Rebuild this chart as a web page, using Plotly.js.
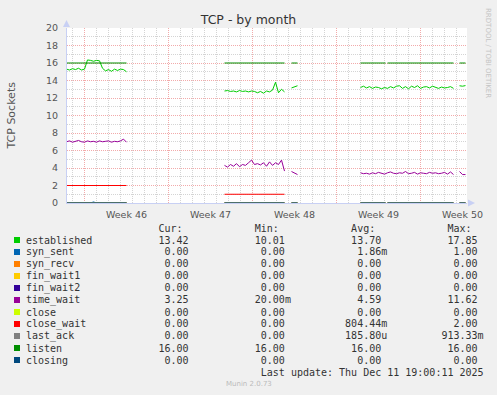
<!DOCTYPE html>
<html>
<head>
<meta charset="utf-8">
<script src="https://cdn.plot.ly/plotly-3.0.1.min.js"></script>
<style>
html,body{margin:0;padding:0;background:#f0f0f0;}
#chart{width:497px;height:395px;}
</style>
</head>
<body>
<div id="chart"></div>
<script>
// ---------- data ----------
const seriesNames = ['established','syn_sent','syn_recv','fin_wait1','fin_wait2','time_wait','close','close_wait','last_ack','listen','closing'];
const seriesColors = ['#00cc00','#0066b3','#ff8000','#ffcc00','#330099','#990099','#ccff00','#ff0000','#808080','#008f00','#00487d'];
const curText = ['13.42','0.00','0.00','0.00','0.00','3.25','0.00','0.00','0.00','16.00','0.00'];
const minText = ['10.01','0.00','0.00','0.00','0.00','20.00m','0.00','0.00','0.00','16.00','0.00'];
const avgText = ['13.70','1.86m','0.00','0.00','0.00','4.59','0.00','804.44m','185.80u','16.00','0.00'];
const maxText = ['17.85','1.00','0.00','0.00','0.00','11.62','0.00','2.00','913.33m','16.00','0.00'];
const weekTickFormat = 'Week %V';
const lastUpdate = 'Last update: Thu Dec 11 19:00:11 2025';

// segment start times (samples every 6 hours)
const segStarts = ['2025-11-08 12:00','2025-11-21 16:00','2025-11-27 06:00','2025-12-03 00:00','2025-12-11 06:00'];
const established = [
  [15.3,15.2,15.35,15.25,15.4,15.2,15.3,16.35,16.3,16.2,16.3,16.25,15.4,15.1,15.25,15.05,15.3,15.15,15.3,15.25,15.0],
  [12.8,12.85,12.75,12.8,12.7,12.85,12.75,12.8,12.7,12.8,12.75,12.6,12.75,12.55,12.8,12.7,12.9,13.8,12.6,13.0,12.7],
  [13.15,13.3,13.4],
  [13.2,13.35,13.15,13.3,13.1,13.25,13.2,13.05,13.2,13.1,13.3,13.15,13.35,13.4,13.1,13.3,13.05,13.35,13.2,13.4,13.1,13.25,13.3,13.15,13.35,13.2,13.1,13.25,13.15,13.2,13.3,13.1],
  [13.4,13.35,13.42]
];
const timeWait = [
  [7.0,7.1,6.95,7.05,7.15,7.0,6.95,7.1,7.0,7.05,6.95,7.1,7.0,7.05,7.1,6.95,7.05,7.0,7.1,7.3,6.95],
  [4.3,4.1,4.4,4.2,4.5,4.15,4.4,4.3,4.6,4.9,4.4,4.5,4.35,4.6,4.2,4.7,4.3,4.6,4.4,4.9,3.65],
  [3.6,3.4,3.25],
  [3.45,3.35,3.4,3.3,3.45,3.35,3.5,3.4,3.3,3.45,3.55,3.4,3.35,3.45,3.4,3.6,3.35,3.4,3.5,3.3,3.45,3.4,3.35,3.5,3.4,3.45,3.35,3.4,3.5,3.3,3.55,3.25],
  [3.6,3.25,3.25]
];
const synSent = [
  [0,0,0,0,0,0,0,0,0,0.12,0,0,0,0,0,0,0,0,0,0,0]
];
// constant series drawn over time spans
const listenSpans = [['2025-11-08 12:00','2025-11-13 12:00'],['2025-11-21 16:00','2025-11-26 16:00'],['2025-11-27 06:00','2025-11-27 18:00'],['2025-12-03 00:00','2025-12-05 02:00'],['2025-12-05 06:00','2025-12-10 18:00'],['2025-12-11 06:00','2025-12-11 18:00']];
const listenVals = [16,16,16,16,16,16];
const closeWaitSpans = [['2025-11-08 12:00','2025-11-13 12:00'],['2025-11-21 16:00','2025-11-26 16:00']];
const closeWaitVals = [2,1];
const zeroVals = [0,0,0,0,0,0];

// ---------- helpers ----------
function segTimes(start, n){
  const t0 = Date.parse(start.replace(' ','T')+':00Z');
  const out = [];
  for(let i=0;i<n;i++){ out.push(new Date(t0+i*6*3600e3).toISOString().slice(0,16).replace('T',' ')); }
  return out;
}
function fromSegments(segs){
  const x=[], y=[];
  segs.forEach((vals,k)=>{
    const t = segTimes(segStarts[k], vals.length);
    if(x.length){ x.push(null); y.push(null); }
    x.push(...t); y.push(...vals);
  });
  return {x,y};
}
function fromSpans(spans, vals){
  const x=[], y=[];
  spans.forEach((s,k)=>{
    if(x.length){ x.push(null); y.push(null); }
    x.push(s[0], s[1]); y.push(vals[k], vals[k]);
  });
  return {x,y};
}
function line(d, idx){
  return {type:'scatter', mode:'lines', x:d.x, y:d.y, name:seriesNames[idx],
    line:{color:seriesColors[idx], width:1}, connectgaps:false, hoverinfo:'skip'};
}
// daily minor grid positions, skipping week starts (Mondays) which get a major line
function dailyMinor(from, to){
  const out=[]; let t=Date.parse(from+'T00:00:00Z'); const end=Date.parse(to+'T00:00:00Z');
  for(; t<=end; t+=86400000){ const d=new Date(t); if(d.getUTCDay()!==1) out.push(d.toISOString().slice(0,10)); }
  return out;
}
// y minor grid at odd values
const yMinor = [1,3,5,7,9,11,13,15,17,19];

const traces = [];
traces.push(line(fromSegments(established),0));
traces.push(line(fromSegments(synSent),1));
[2,3,4].forEach(i=>traces.push(line(fromSpans(listenSpans, zeroVals),i)));
traces.push(line(fromSegments(timeWait),5));
traces.push(line(fromSpans(listenSpans, zeroVals),6));
traces.push(line(fromSpans(closeWaitSpans, closeWaitVals),7));
traces.push(line(fromSpans(listenSpans, zeroVals),8));
traces.push(line(fromSpans(listenSpans, listenVals),9));
traces.push(line(fromSpans(listenSpans, zeroVals),10));

// ---------- layout geometry ----------
const L=67, T=28, W=400, H=175;
const px = p => (p - L)/W;
const py = p => (T + H - p)/H;
const NB = '\u00a0';
const padR = (s,n) => s + NB.repeat(Math.max(0,n-s.length));
const padL = (s,n) => NB.repeat(Math.max(0,n-s.length)) + s;
function field(v){
  const last = v.slice(-1);
  if(last==='m' || last==='u'){ return padL(v.slice(0,-1),15) + last; }
  return padL(v,15) + NB;
}

const monoFont = {family:'DejaVu Sans Mono, monospace', size:10, color:'#333333'};
const annotations = [];
const shapes = [];

annotations.push({xref:'paper', yref:'paper', x:px(26), y:py(228), xanchor:'left', yanchor:'middle',
  text: NB.repeat(22)+'Cur:'+NB.repeat(12)+'Min:'+NB.repeat(12)+'Avg:'+NB.repeat(12)+'Max:',
  showarrow:false, font:monoFont, borderpad:0, borderwidth:0});
seriesNames.forEach((n,i)=>{
  const yy = 240 + 12*i;
  annotations.push({xref:'paper', yref:'paper', x:px(26), y:py(yy), xanchor:'left', yanchor:'middle',
    text: padR(n,12)+field(curText[i])+field(minText[i])+field(avgText[i])+field(maxText[i]),
    showarrow:false, font:monoFont, borderpad:0, borderwidth:0});
  shapes.push({type:'rect', xref:'paper', yref:'paper', x0:px(14), x1:px(20), y0:py(yy+3), y1:py(yy-3),
    fillcolor:seriesColors[i], line:{width:0}});
});
annotations.push({xref:'paper', yref:'paper', x:px(26), y:py(372), xanchor:'left', yanchor:'middle',
  text: NB.repeat(39)+lastUpdate, showarrow:false, font:monoFont, borderpad:0, borderwidth:0});
annotations.push({xref:'paper', yref:'paper', x:px(248.5), y:py(384), xanchor:'center', yanchor:'middle',
  text:'Munin 2.0.73', showarrow:false, font:{family:'DejaVu Sans', size:7, color:'#bbbbbb'}, borderpad:0, borderwidth:0});
annotations.push({xref:'paper', yref:'paper', x:px(488), y:py(53), xanchor:'center', yanchor:'middle', textangle:90,
  text:'RRDTOOL / TOBI OETIKER', showarrow:false, font:{family:'DejaVu Sans', size:7, color:'#c4c4c4'}, borderpad:0, borderwidth:0});
annotations.push({xref:'paper', yref:'paper', x:px(11), y:py(115.5), xanchor:'center', yanchor:'middle', textangle:-90,
  text:'TCP Sockets', showarrow:false, font:{family:'DejaVu Sans', size:11, color:'#555555'}, borderpad:0, borderwidth:0});

// axis arrows
const axisBlue = '#c8d0f4';
shapes.push({type:'path', xref:'paper', yref:'paper',
  path:`M ${px(468)} ${py(199.5)} L ${px(475)} ${py(203)} L ${px(468)} ${py(206.5)} Z`, fillcolor:axisBlue, line:{width:0}});
shapes.push({type:'path', xref:'paper', yref:'paper',
  path:`M ${px(63)} ${py(27)} L ${px(66.5)} ${py(20)} L ${px(70)} ${py(27)} Z`, fillcolor:axisBlue, line:{width:0}});

const majorGrid = '#f2aaaa', minorGrid = '#d4d4d4';
const layout = {
  width:497, height:395,
  margin:{l:L, r:497-L-W, t:T, b:395-T-H, pad:0},
  paper_bgcolor:'#f0f0f0', plot_bgcolor:'#ffffff',
  showlegend:false,
  title:{text:'TCP - by month', xref:'container', yref:'container', x:0.5, y:1-19.5/395, xanchor:'center', yanchor:'middle',
    font:{family:'DejaVu Sans', size:12.5, color:'#333333'}},
  xaxis:{type:'date', range:['2025-11-08 13:00','2025-12-11 21:00'], tick0:'2025-11-10', dtick:7*86400000,
    ticklabelmode:'period', tickformat:weekTickFormat, ticks:'', ticklabelstandoff:3,
    showgrid:true, gridcolor:majorGrid, griddash:'1px,1px', gridwidth:1, zeroline:false,
    showline:true, linecolor:axisBlue, linewidth:1,
    tickfont:{family:'DejaVu Sans', size:9.5, color:'#555555'},
    minor:{tickmode:'array', tickvals:dailyMinor('2025-11-08','2025-12-12'), showgrid:true, gridcolor:minorGrid, griddash:'1px,1px', gridwidth:1, ticks:''},
    fixedrange:true},
  yaxis:{range:[0,20], dtick:2, tick0:0, ticks:'', ticklabelstandoff:6,
    showgrid:true, gridcolor:majorGrid, griddash:'1px,1px', gridwidth:1, zeroline:false,
    showline:true, linecolor:axisBlue, linewidth:1,
    tickfont:{family:'DejaVu Sans', size:9.5, color:'#555555'},
    minor:{tickmode:'array', tickvals:yMinor, showgrid:true, gridcolor:minorGrid, griddash:'1px,1px', gridwidth:1, ticks:''},
    fixedrange:true},
  annotations, shapes
};
Plotly.newPlot('chart', traces, layout, {staticPlot:true, displayModeBar:false});
</script>
</body>
</html>
